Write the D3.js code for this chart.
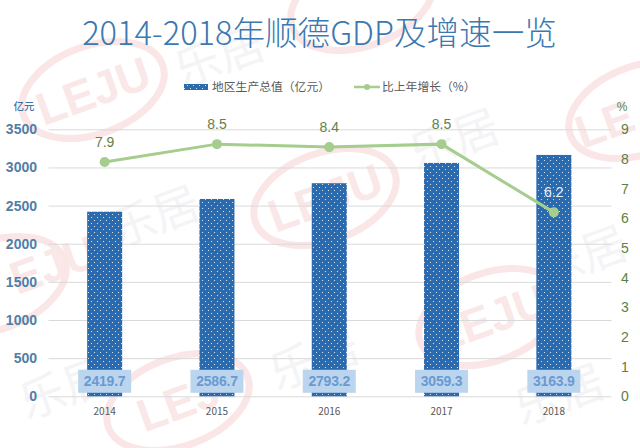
<!DOCTYPE html>
<html><head><meta charset="utf-8">
<script src="https://cdn.jsdelivr.net/npm/d3@7/dist/d3.min.js"></script>
<style>html,body{margin:0;padding:0;background:#fff;overflow:hidden}svg{display:block}</style>
</head><body><svg id="c" width="640" height="448"></svg>
<script>
const years = ["2014","2015","2016","2017","2018"];
const gdp = [2419.7,2586.7,2793.2,3059.3,3163.9];
const growth = [7.9,8.5,8.4,8.5,6.2];
const gdpTicks = [0,500,1000,1500,2000,2500,3000,3500];
const growthTicks = [0,1,2,3,4,5,6,7,8,9];
const titleText = "2014-2018年顺德GDP及增速一览";
const legendLabels = ["地区生产总值（亿元）","比上年增长（%）"];
const stampSpots = [[93,90,"LEJU",0],[362,2,"",0],[-5,285,"EJU",62],[178,402,"LEJ",0],[325,197,"LEJU",0],[640,110,"LE",-38],[490,317,"LEJU",0]];
const brandSpots = [[225,72],[460,155],[160,232],[320,375],[588,272],[70,404],[565,410]];

const svg = d3.select("#c");
const cjk = "'Noto Sans CJK SC','Noto Sans',sans-serif";
const latin = "'Liberation Sans',Arial,sans-serif";
const barBlue = "#2a6bb0", lineGreen = "#a5cd8d";
const x = d3.scaleBand().domain(years).range([48.5,610]);
const yL = d3.scaleLinear().domain([0,3500]).range([396.3,129.3]);
const yR = d3.scaleLinear().domain([0,9]).range([396.3,129.3]);

const pat = svg.append("defs").append("pattern").attr("id","dots")
  .attr("patternUnits","userSpaceOnUse").attr("width",6).attr("height",6);
pat.append("rect").attr("width",6).attr("height",6).attr("fill",barBlue);
pat.append("circle").attr("cx",1.5).attr("cy",1.5).attr("r",.55).attr("fill","#eef6fc");
pat.append("circle").attr("cx",4.5).attr("cy",4.5).attr("r",.55).attr("fill","#eef6fc");

// watermarks
const wm = svg.append("g");
stampSpots.forEach(([cx,cy,word,dx])=>{
  const g = wm.append("g").attr("transform",`translate(${cx},${cy}) rotate(-20)`);
  g.append("ellipse").attr("rx",74).attr("ry",44).attr("fill","none").attr("stroke","#fae6e6").attr("stroke-width",7);
  g.append("text").attr("text-anchor","middle").attr("x",dx).attr("y",17).attr("font-family",latin).attr("font-weight",700)
    .attr("font-size",46).attr("fill","#fae8e8").text(word);
});
brandSpots.forEach(([cx,cy])=>{
  wm.append("text").attr("transform",`translate(${cx},${cy}) rotate(-20)`).attr("text-anchor","middle")
    .attr("font-family",cjk).attr("font-size",46).attr("fill","#f4f4f6").text("乐居");
});

// title
svg.append("text").attr("x",319.5).attr("y",45).attr("text-anchor","middle").attr("font-family",cjk)
  .attr("font-weight",300).attr("font-size",32.6).attr("fill","#3b78b0").text(titleText);

// gridlines
const grid = svg.append("g").attr("transform","translate(48.5,0)").call(d3.axisLeft(yL).tickValues(gdpTicks).tickSize(-563).tickFormat(""));
grid.select(".domain").remove();
grid.selectAll("line").attr("stroke","#d9d9d9").attr("stroke-width",1);

// bars
const bw = 35;
svg.append("g").selectAll("rect").data(gdp).join("rect")
  .attr("x",(d,i)=>x(years[i])+x.bandwidth()/2-bw/2).attr("width",bw)
  .attr("y",d=>yL(d)).attr("height",d=>yL(0)-yL(d)).attr("fill","url(#dots)");

// left axis
const la = svg.append("g").attr("transform","translate(37,0)").call(d3.axisLeft(yL).tickValues(gdpTicks).tickSize(0).tickPadding(0).tickFormat(d3.format("d")));
la.select(".domain").remove();
la.selectAll("text").attr("font-family",latin).attr("font-size",14).attr("font-weight",700).attr("fill","#4f7ea8");
svg.append("text").attr("x",24).attr("y",110).attr("text-anchor","middle").attr("font-family",cjk).attr("font-weight",500).attr("font-size",10.5).attr("fill","#3f74a8").text("亿元");

// right axis
const ra = svg.append("g").attr("transform","translate(621,0)").call(d3.axisRight(yR).tickValues(growthTicks).tickSize(0).tickPadding(0));
ra.select(".domain").remove();
ra.selectAll("text").attr("font-family",latin).attr("font-size",14).attr("fill","#5d7f42");
svg.append("text").attr("x",622).attr("y",111).attr("text-anchor","middle").attr("font-family",latin).attr("font-size",12).attr("fill","#5d7f42").text("%");

// x axis
const xa = svg.append("g").attr("transform","translate(0,396.3)").call(d3.axisBottom(x).tickSize(0).tickPadding(0));
xa.select(".domain").remove();
xa.selectAll("text").attr("dy",0).attr("y",19).attr("font-family",cjk).attr("font-size",10).attr("fill","#595959");

// line
const cx = (d,i)=>x(years[i])+x.bandwidth()/2;
svg.append("path").datum(growth).attr("fill","none").attr("stroke",lineGreen).attr("stroke-width",3)
  .attr("d",d3.line().x(cx).y(d=>yR(d)));
svg.append("g").selectAll("circle").data(growth).join("circle").attr("cx",cx).attr("cy",d=>yR(d)).attr("r",5).attr("fill",lineGreen);
svg.append("g").selectAll("text").data(growth).join("text").attr("x",cx).attr("y",d=>yR(d)-15)
  .attr("text-anchor","middle").attr("font-family",latin).attr("font-size",14)
  .attr("fill",(d,i)=>i===4?"#e6f0f9":"#64804a").text(d=>d.toFixed(1));

// value boxes
const vals = svg.append("g").selectAll("g").data(gdp).join("g");
vals.append("rect").attr("x",(d,i)=>cx(d,i)-26.5).attr("y",yL(0)-26.5).attr("width",53).attr("height",23).attr("fill","#bcd5ee");
vals.append("text").attr("x",cx).attr("y",yL(0)-10).attr("text-anchor","middle").attr("font-family",latin)
  .attr("font-weight",700).attr("font-size",14).attr("letter-spacing",-.2).attr("fill","#6a9ad2").text(d=>d.toFixed(1));

// legend
svg.append("rect").attr("x",184).attr("y",84).attr("width",24).attr("height",6).attr("fill","url(#dots)");
svg.append("text").attr("x",212).attr("y",91).attr("font-family",cjk).attr("font-size",11.8).attr("fill","#595959").text(legendLabels[0]);
svg.append("line").attr("x1",354).attr("x2",380).attr("y1",87).attr("y2",87).attr("stroke",lineGreen).attr("stroke-width",2.5);
svg.append("circle").attr("cx",367).attr("cy",87).attr("r",3).attr("fill",lineGreen);
svg.append("text").attr("x",382).attr("y",91).attr("font-family",cjk).attr("font-size",11.8).attr("fill","#595959").text(legendLabels[1]);
</script></body></html>
